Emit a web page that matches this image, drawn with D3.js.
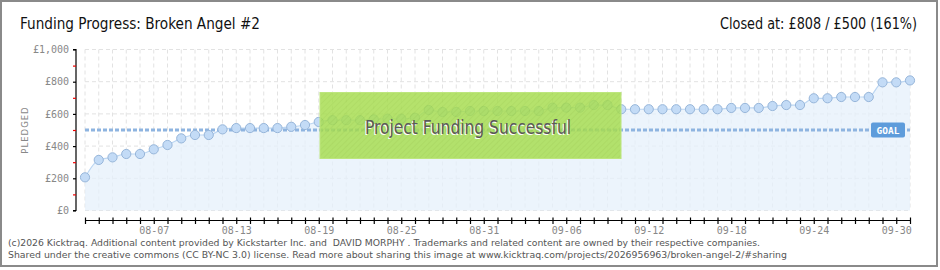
<!DOCTYPE html>
<html><head><meta charset="utf-8">
<script src="https://cdn.jsdelivr.net/npm/d3@7"></script>
<style>
html,body{margin:0;padding:0;background:#fff;}
svg{display:block;}
</style>
</head><body>
<svg id="chart" width="940" height="270"></svg>
<script>
// ---- data ----
const dates = ["08-02","08-03","08-04","08-05","08-06","08-07","08-08","08-09","08-10","08-11",
  "08-12","08-13","08-14","08-15","08-16","08-17","08-18","08-19","08-20","08-21",
  "08-22","08-23","08-24","08-25","08-26","08-27","08-28","08-29","08-30","08-31",
  "09-01","09-02","09-03","09-04","09-05","09-06","09-07","09-08","09-09","09-10",
  "09-11","09-12","09-13","09-14","09-15","09-16","09-17","09-18","09-19","09-20",
  "09-21","09-22","09-23","09-24","09-25","09-26","09-27","09-28","09-29","09-30","10-01"];
const pledged = [206,314,330,351,351,380,407,448,469,469,
  504,512,512,512,512,520,531,550,561,561,
  561,566,570,570,576,624,612,612,618,618,
  618,618,618,618,639,639,639,655,655,629,
  629,629,629,629,629,629,629,637,637,637,
  649,655,655,697,697,705,705,705,796,796,808];
const xTickLabels = ["08-07","08-13","08-19","08-25","08-31","09-06","09-12","09-18","09-24","09-30"];
const yTicks = [0,100,200,300,400,500,600,700,800,900,1000];
const yLabelTicks = [0,200,400,600,800,1000];
const goal = 500;
const titleText = "Funding Progress: Broken Angel #2";
const closedText = "Closed at:  £808 / £500 (161%)";
const footer1 = "(c)2026 Kicktraq. Additional content provided by Kickstarter Inc. and  DAVID MORPHY . Trademarks and related content are owned by their respective companies.";
const footer2 = "Shared under the creative commons (CC BY-NC 3.0) license. Read more about sharing this image at www.kicktraq.com/projects/2026956963/broken-angel-2/#sharing";

// ---- layout ----
const svg = d3.select("#chart");
const x = d3.scalePoint().domain(dates).range([85, 910]);
const y = d3.scaleLinear().domain([0, 1000]).range([210.5, 49.5]);

const defs = svg.append("defs");
const pat = defs.append("pattern").attr("id","hatch").attr("width",4).attr("height",4)
  .attr("patternUnits","userSpaceOnUse").attr("patternTransform","rotate(45)");
pat.append("rect").attr("width",4).attr("height",4).attr("fill","#a7dd50");
pat.append("line").attr("x1",0).attr("y1",0).attr("x2",0).attr("y2",4).attr("stroke","#9ed346").attr("stroke-width",1.5);

// border
svg.append("rect").attr("x",1).attr("y",1).attr("width",936).attr("height",265)
  .attr("fill","#fff").attr("stroke","#8a8a8a").attr("stroke-width",2);

// titles
const titleFont = "'DejaVu Sans Condensed','Liberation Sans Narrow',sans-serif";
svg.append("text").attr("x",20).attr("y",29).text(titleText)
  .attr("font-family",titleFont).attr("font-size",16).attr("fill","#111")
  .attr("textLength",240).attr("lengthAdjust","spacingAndGlyphs");
svg.append("text").attr("x",917).attr("y",29).attr("text-anchor","end").text(closedText)
  .attr("font-family",titleFont).attr("font-size",16).attr("fill","#111")
  .attr("textLength",197).attr("lengthAdjust","spacingAndGlyphs");

// grid
const grid = svg.append("g");
grid.selectAll("line.v").data(dates).join("line")
  .attr("x1",d=>x(d)).attr("x2",d=>x(d)).attr("y1",y(1000)).attr("y2",y(0))
  .attr("stroke","#e2e2e2").attr("stroke-dasharray","4,3");
grid.selectAll("line.h").data(yLabelTicks).join("line")
  .attr("x1",x(dates[0])).attr("x2",x(dates[dates.length-1])).attr("y1",d=>y(d)).attr("y2",d=>y(d))
  .attr("stroke","#e2e2e2").attr("stroke-dasharray","4,3");

// area + line
const area = d3.area().x((d,i)=>x(dates[i])).y0(y(0)).y1(d=>y(d)).curve(d3.curveMonotoneX);
svg.append("path").datum(pledged).attr("d",area).attr("fill","#e6f0fb").attr("fill-opacity",0.75);
const line = d3.line().x((d,i)=>x(dates[i])).y(d=>y(d)).curve(d3.curveMonotoneX);
svg.append("path").datum(pledged).attr("d",line).attr("fill","none").attr("stroke","#bcd6f2").attr("stroke-width",1.2);

// goal line
svg.append("line").attr("x1",x(dates[0])).attr("x2",x(dates[dates.length-1]))
  .attr("y1",y(goal)).attr("y2",y(goal))
  .attr("stroke","#8eb4e0").attr("stroke-width",3).attr("stroke-dasharray","4,2");

// points
svg.append("g").selectAll("circle").data(pledged).join("circle")
  .attr("cx",(d,i)=>x(dates[i])).attr("cy",d=>y(d)).attr("r",4.6)
  .attr("fill","#c3dbf6").attr("stroke","#97b6da").attr("stroke-width",1);

// goal label
const gl = svg.append("g");
gl.append("rect").attr("x",871).attr("y",y(goal)-7.5).attr("width",34).attr("height",15).attr("rx",2)
  .attr("fill","#5e9cdb");
gl.append("text").attr("x",888).attr("y",y(goal)+3.5).attr("text-anchor","middle").text("GOAL")
  .attr("font-family","'DejaVu Sans Mono',monospace").attr("font-size",9.5).attr("font-weight","bold").attr("fill","#fff");

// success box
svg.append("rect").attr("x",320).attr("y",92.5).attr("width",301).attr("height",66)
  .attr("fill","url(#hatch)").attr("fill-opacity",0.84).attr("stroke","#bde67e").attr("stroke-width",1);
const sf = "'DejaVu Sans Condensed',sans-serif";
svg.append("text").attr("x",468).attr("y",134).attr("text-anchor","middle").text("Project Funding Successful")
  .attr("font-family",sf).attr("font-size",19).attr("fill","#fff")
  .attr("textLength",206).attr("lengthAdjust","spacingAndGlyphs").attr("transform","translate(-1,1)");
svg.append("text").attr("x",468).attr("y",134).attr("text-anchor","middle").text("Project Funding Successful")
  .attr("font-family",sf).attr("font-size",19).attr("fill","#5a5a5a")
  .attr("textLength",206).attr("lengthAdjust","spacingAndGlyphs");

// y axis
const yAxis = d3.axisLeft(y).tickValues(yTicks).tickSize(3)
  .tickFormat(d => yLabelTicks.includes(d) ? "£" + d3.format(",")(d) : "");
const yg = svg.append("g").attr("transform","translate(76,0)").call(yAxis);
yg.select(".domain").attr("stroke","#000").attr("stroke-width",1.2).attr("d",`M-3,${y(1000)}H0V${y(0)}H-3`);
yg.selectAll(".tick line").attr("stroke",d=>yLabelTicks.includes(d)?"#000":"#e00").attr("stroke-width",1.2);
yg.selectAll(".tick text").attr("fill","#888").attr("font-size",10).attr("x",-7)
  .attr("font-family","'DejaVu Sans Mono',monospace");

svg.append("text").attr("transform","translate(28,130) rotate(-90)").attr("text-anchor","middle")
  .text("PLEDGED").attr("font-family","'DejaVu Sans',sans-serif").attr("font-size",8.5)
  .attr("letter-spacing",1).attr("fill","#888");

// x axis
const xAxis = d3.axisBottom(x).tickSize(4).tickFormat(d => xTickLabels.includes(d) ? d : "");
const xg = svg.append("g").attr("transform","translate(0,220.5)").call(xAxis);
xg.select(".domain").attr("stroke","#000").attr("stroke-width",1.2).attr("d",`M${x(dates[0])},0H${x(dates[dates.length-1])}`);
xg.selectAll(".tick line").attr("y1",-3).attr("y2",3.5).attr("stroke","#000").attr("stroke-width",1.2);
xg.selectAll(".tick text").attr("fill","#888").attr("font-size",10).attr("y",6)
  .attr("font-family","'DejaVu Sans Mono',monospace");

// footer
const ff = "'DejaVu Sans','Verdana',sans-serif";
svg.append("text").attr("x",8).attr("y",246).text(footer1).attr("font-family",ff).attr("font-size",9)
  .attr("fill","#555").attr("textLength",752).attr("lengthAdjust","spacingAndGlyphs").style("white-space","pre");
svg.append("text").attr("x",8).attr("y",258).text(footer2).attr("font-family",ff).attr("font-size",9)
  .attr("fill","#555").attr("textLength",779).attr("lengthAdjust","spacingAndGlyphs");
</script>
</body></html>
